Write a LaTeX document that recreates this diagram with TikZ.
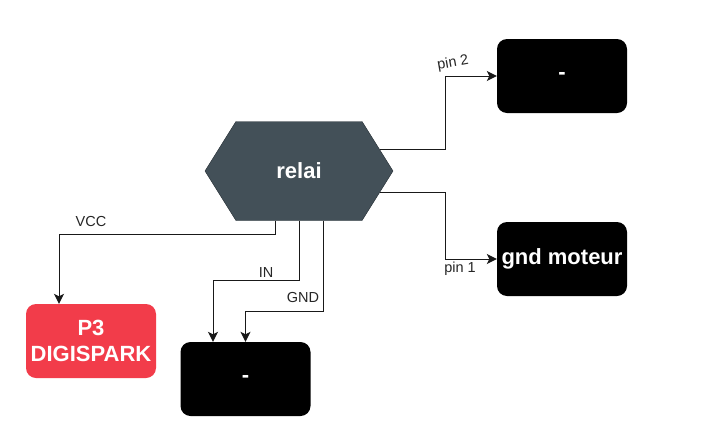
\documentclass[tikz,border=0pt]{standalone}
\usepackage{fontspec}
\setmainfont{Liberation Sans}
\usetikzlibrary{shapes.symbols,arrows.meta}

\definecolor{relaygrey}{RGB}{67,80,88}
\definecolor{relayedge}{RGB}{38,46,52}
\definecolor{digired}{RGB}{242,60,74}

\begin{document}
\begin{tikzpicture}[
    x=1pt, y=-1pt,
    every node/.style={font=\fontsize{14.5}{17}\selectfont},
    relaybox/.style={shape=signal, signal to=east and west, signal pointer angle=116,
        minimum width=188pt, minimum height=99pt, inner sep=0pt,
        fill=relaygrey, draw=relayedge, text=white, font=\fontsize{22}{26}\selectfont\bfseries},
    blockbox/.style={rectangle, rounded corners=10pt, minimum width=130pt, minimum height=74pt,
        inner sep=2pt, fill=black, text=white, align=center, font=\fontsize{22}{26}\selectfont\bfseries},
    wire/.style={-{Stealth[length=10pt,width=10pt,inset=2.5pt]}, line width=1pt, draw=black!90},
    pinlabel/.style={inner sep=1pt, text=black!85}
]

    % page
    \fill[white] (0,0) rectangle (705,445);
    \useasboundingbox (0,0) rectangle (705,445);

    % Relay in the middle
    \node[relaybox] (relai) at (299,171) {relai};

    % Outputs and boards
    \node[blockbox] (pintwo) at (562,76) {-};
    \node[blockbox] (gndmot) at (562,259) {gnd moteur};
    \node[blockbox, fill=digired] (digi) at (91,341) {P3\\DIGISPARK};
    \node[blockbox] (board) at (245.5,379) {-};

    % Wires from the relay
    \draw[wire] ([shift={(-13pt,22pt)}]relai.east) -- ++(65,0) |- (pintwo.west);
    \draw[wire] ([shift={(-13pt,-21pt)}]relai.east) -- ++(65,0) |- (gndmot.west);
    \draw[wire] ([xshift=-24pt]relai.south) -- ++(0,14) -| ([xshift=-32pt]digi.north);
    \draw[wire] (relai.south) -- ++(0,60) -| ([xshift=-32.5pt]board.north);
    \draw[wire] ([xshift=24pt]relai.south) -- ++(0,91) -| (board.north);

    % Pin names
    \node[pinlabel, rotate=10] (lpintwo) at (453,63) {pin 2};
    \node[pinlabel] (lpinone) at (460,269) {pin 1};
    \node[pinlabel] (lvcc) at (91,222) {VCC};
    \node[pinlabel] (lin) at (266,273) {IN};
    \node[pinlabel] (lgnd) at (303,298) {GND};

\end{tikzpicture}
\end{document}
